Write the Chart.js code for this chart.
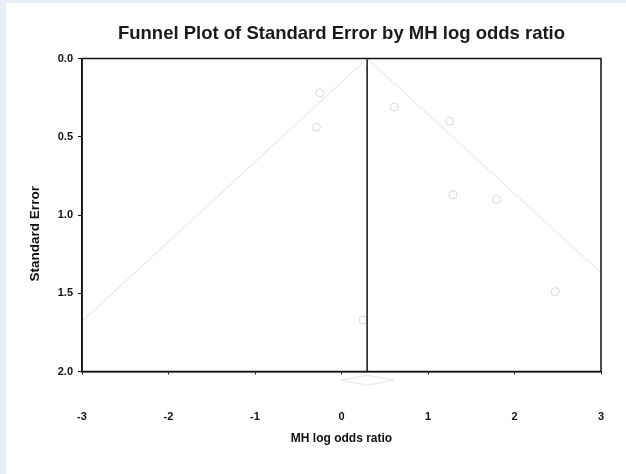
<!DOCTYPE html>
<html>
<head>
<meta charset="utf-8">
<script src="https://cdn.jsdelivr.net/npm/chart.js@4"></script>
<style>
  html, body { margin: 0; padding: 0; background: #e6eef8; }
  canvas { display: block; }
</style>
</head>
<body>
<canvas id="chart" width="626" height="474"></canvas>
<script>
// study estimates
const logOdds = [-0.25, -0.29, 0.61, 1.25, 1.29, 1.79, 2.47, 0.25];
const stdErr  = [0.22, 0.44, 0.31, 0.40, 0.87, 0.90, 1.49, 1.67];

// pooled estimate and funnel limits
const pooled = 0.296;
const funnelX  = [-3, pooled, 3];
const funnelSE = [1.68, 0, 1.37];

// summary diamond below the axis
const diamondX  = [-0.01, pooled, 0.60, pooled, -0.01];
const diamondSE = [2.056, 2.024, 2.056, 2.088, 2.056];

const xTicks = [-3, -2, -1, 0, 1, 2, 3];
const yTicks = [0.0, 0.5, 1.0, 1.5, 2.0];

const pts = (xs, ys) => xs.map((x, i) => ({ x: x, y: ys[i] }));

const frame = {
  id: 'frame',
  beforeDraw(chart) {
    const c = chart.ctx;
    c.save();
    c.fillStyle = '#e6eef8';
    c.fillRect(0, 0, chart.width, chart.height);
    c.fillStyle = '#ffffff';
    c.fillRect(6, 3, chart.width - 6, chart.height - 3);
    c.restore();
  },
  afterDatasetsDraw(chart) {
    const a = chart.chartArea;
    const c = chart.ctx;
    c.save();
    c.strokeStyle = '#111';
    c.lineWidth = 1.5;
    c.strokeRect(a.left, a.top, a.right - a.left, a.bottom - a.top);
    c.restore();
  }
};

const ctx = document.getElementById('chart').getContext('2d');
const chart = new Chart(ctx, {
  type: 'scatter',
  data: {
    datasets: [
      {
        label: 'funnel',
        data: pts(funnelX, funnelSE),
        showLine: true,
        borderColor: '#e0e0e0',
        borderWidth: 1,
        pointRadius: 0,
        fill: false
      },
      {
        label: 'pooled',
        data: pts([pooled, pooled], [0, 2]),
        showLine: true,
        borderColor: '#111',
        borderWidth: 1.5,
        pointRadius: 0
      },
      {
        label: 'studies',
        data: pts(logOdds, stdErr),
        pointRadius: 4,
        pointBorderWidth: 1,
        pointBorderColor: '#d8d8d8',
        pointBackgroundColor: 'rgba(255,255,255,0)'
      },
      {
        label: 'summary',
        data: pts(diamondX, diamondSE),
        showLine: true,
        borderColor: '#e6e6e6',
        borderWidth: 1,
        pointRadius: 0,
        clip: false
      }
    ]
  },
  options: {
    responsive: false,
    animation: false,
    layout: { padding: { left: 0, right: 25, top: 0, bottom: 0 } },
    plugins: {
      legend: { display: false },
      tooltip: { enabled: false }
    },
    scales: {
      x: {
        type: 'linear',
        min: -3, max: 3,
        afterBuildTicks: s => { s.ticks = xTicks.map(v => ({ value: v })); },
        afterFit: s => { s.height = 102.5; s.paddingLeft = 0; s.paddingRight = 0; },
        border: { display: true, color: '#111', width: 1.5 },
        grid: { drawOnChartArea: false, drawTicks: true, tickLength: 3, color: '#111', lineWidth: 1 },
        ticks: {
          color: '#111',
          padding: 36,
          font: { family: 'Liberation Sans', size: 11, weight: 'bold' },
          callback: v => String(v)
        },
        title: {
          display: true,
          text: 'MH log odds ratio',
          color: '#111',
          font: { family: 'Liberation Sans', size: 12, weight: 'bold' },
          padding: { bottom: 28 }
        }
      },
      top: {
        type: 'linear',
        position: 'top',
        min: -3, max: 3,
        afterFit: s => { s.height = 58.5; s.paddingLeft = 0; s.paddingRight = 0; },
        border: { display: false },
        grid: { display: false },
        ticks: { display: false },
        title: {
          display: true,
          text: 'Funnel Plot of Standard Error by MH log odds ratio',
          color: '#1a1a1a',
          font: { family: 'Liberation Sans', size: 18.5, weight: 'bold' },
          padding: { top: 23 }
        }
      },
      y: {
        type: 'linear',
        reverse: true,
        min: 0, max: 2,
        afterBuildTicks: s => { s.ticks = yTicks.map(v => ({ value: v })); },
        afterFit: s => { s.width = 82; },
        border: { display: true, color: '#111', width: 1.5 },
        grid: { drawOnChartArea: false, drawTicks: true, tickLength: 4, color: '#111', lineWidth: 1 },
        ticks: {
          color: '#111',
          padding: 5,
          font: { family: 'Liberation Sans', size: 11, weight: 'bold' },
          callback: v => Number(v).toFixed(1)
        },
        title: {
          display: true,
          text: 'Standard Error          ',
          color: '#111',
          font: { family: 'Liberation Sans', size: 13.5, weight: 'bold' },
          padding: { top: 27 }
        }
      }
    }
  },
  plugins: [frame]
});
</script>
</body>
</html>
